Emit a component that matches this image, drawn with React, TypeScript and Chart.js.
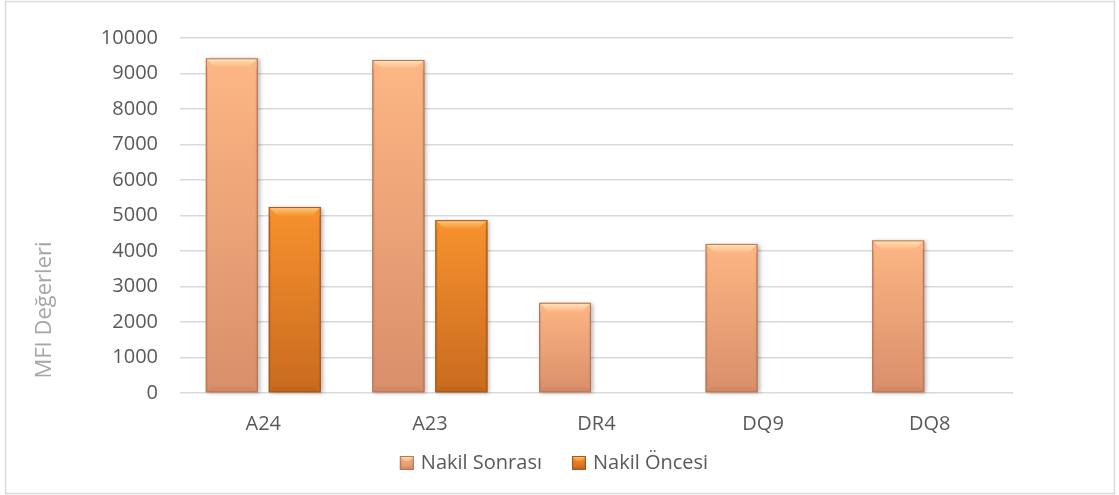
import React, { useEffect, useRef } from "react";
import { Chart, registerables } from "chart.js";

Chart.register(...registerables);

const categories = ["A24", "A23", "DR4", "DQ9", "DQ8"];
const nakilSonrasi = [9430, 9380, 2540, 4200, 4300];
const nakilOncesi = [5240, 4870, 0, 0, 0];
const yTicks = [0, 1000, 2000, 3000, 4000, 5000, 6000, 7000, 8000, 9000, 10000];
const yTitle = "MFI Değerleri";

const FONT = "'Open Sans', 'Noto Sans', sans-serif";

type Pal = { top: string; bottom: string; bevel: string; edge: string; dark: string };
const palettes: Pal[] = [
  { top: "#FDB684", bottom: "#D98F6A", bevel: "#FFE6B8", edge: "#B7775A", dark: "#C27C5C" },
  { top: "#F8922E", bottom: "#C96B1F", bevel: "#FDCB7E", edge: "#A45A1C", dark: "#AE5B1A" },
];

function drawBevelRect(ctx: CanvasRenderingContext2D, l: number, t: number, width: number, h: number, p: Pal, bvMax: number, shadow: boolean) {
  const r = l + width;
  const b = t + h;
  const bv = Math.min(bvMax, h / 2, width / 2);
  ctx.save();
  if (shadow) {
    ctx.shadowColor = "rgba(0,0,0,0.28)";
    ctx.shadowBlur = 4;
    ctx.shadowOffsetX = 2;
    ctx.shadowOffsetY = 1;
  }
  const g = ctx.createLinearGradient(0, t, 0, b);
  g.addColorStop(0, p.top);
  g.addColorStop(1, p.bottom);
  ctx.fillStyle = g;
  ctx.fillRect(l, t, width, h);
  ctx.shadowColor = "transparent";
  const gt = ctx.createLinearGradient(0, t, 0, t + bv);
  gt.addColorStop(0, p.bevel);
  gt.addColorStop(1, p.top);
  ctx.fillStyle = gt;
  ctx.beginPath();
  ctx.moveTo(l, t);
  ctx.lineTo(r, t);
  ctx.lineTo(r - bv, t + bv);
  ctx.lineTo(l + bv, t + bv);
  ctx.closePath();
  ctx.fill();
  ctx.fillStyle = p.dark;
  ctx.globalAlpha = 0.35;
  const bb = bv * 0.6;
  ctx.beginPath();
  ctx.moveTo(l, b);
  ctx.lineTo(r, b);
  ctx.lineTo(r - bb, b - bb);
  ctx.lineTo(l + bb, b - bb);
  ctx.closePath();
  ctx.fill();
  ctx.globalAlpha = 0.3;
  ctx.fillStyle = p.edge;
  ctx.fillRect(l, t + bv, 2, h - bv);
  ctx.fillRect(r - 2, t + bv, 2, h - bv);
  ctx.globalAlpha = 1;
  ctx.strokeStyle = p.edge;
  ctx.lineWidth = 1;
  ctx.strokeRect(l + 0.5, t + 0.5, width - 1, h - 1);
  ctx.restore();
}

const bevelPlugin = {
  id: "bevel",
  afterDatasetsDraw(chart: any) {
    const ctx = chart.ctx;
    chart.data.datasets.forEach((ds: any, di: number) => {
      const meta = chart.getDatasetMeta(di);
      const p = palettes[di];
      meta.data.forEach((bar: any) => {
        const { x, y, base, width } = bar.getProps(["x", "y", "base", "width"], true);
        const h = base - y;
        if (h < 1) return;
        drawBevelRect(ctx, x - width / 2, y, width, h, p, 9, true);
      });
    });
  },
};

const decorPlugin = {
  id: "decor",
  afterDraw(chart: any) {
    const ctx = chart.ctx;
    ctx.save();
    ctx.strokeStyle = "#d9d9d9";
    ctx.lineWidth = 1.5;
    ctx.strokeRect(5.5, 1.5, chart.width - 10, chart.height - 3);
    ctx.save();
    ctx.translate(45, 310);
    ctx.rotate(-Math.PI / 2);
    ctx.fillStyle = "#a6a6a6";
    ctx.font = `22px ${FONT}`;
    ctx.textAlign = "center";
    ctx.textBaseline = "middle";
    ctx.fillText(yTitle, 0, 0);
    ctx.restore();
    ctx.font = `20px ${FONT}`;
    ctx.textBaseline = "middle";
    ctx.textAlign = "left";
    const box = 14;
    const gapIcon = 7;
    const gapItem = 30;
    const labels = chart.data.datasets.map((d: any) => d.label as string);
    const widths = labels.map((t: string) => ctx.measureText(t).width);
    let total = 0;
    widths.forEach((w: number, i: number) => {
      total += box + gapIcon + w + (i < widths.length - 1 ? gapItem : 0);
    });
    let x = 554 - total / 2;
    const cy = 463;
    labels.forEach((t: string, i: number) => {
      drawBevelRect(ctx, x, cy - box / 2, box, box, palettes[i], 5, false);
      x += box + gapIcon;
      ctx.fillStyle = "#595959";
      ctx.fillText(t, x, cy);
      x += widths[i] + gapItem;
    });
    ctx.restore();
  },
};

export default function App() {
  const ref = useRef<HTMLCanvasElement>(null);
  useEffect(() => {
    document.body.style.margin = "0";
    const chart = new Chart(ref.current as HTMLCanvasElement, {
      type: "bar",
      data: {
        labels: categories,
        datasets: [
          {
            label: "Nakil Sonrası",
            data: nakilSonrasi,
            backgroundColor: "#F0A47A",
            borderWidth: 0,
            categoryPercentage: 0.756,
            barPercentage: 0.825,
          },
          {
            label: "Nakil Öncesi",
            data: nakilOncesi,
            backgroundColor: "#E07C22",
            borderWidth: 0,
            categoryPercentage: 0.756,
            barPercentage: 0.825,
          },
        ],
      },
      options: {
        animation: false,
        responsive: false,
        maintainAspectRatio: false,
        layout: { padding: { left: 26, right: 106, top: 38, bottom: 52 } },
        plugins: {
          legend: { display: false },
          tooltip: { enabled: false },
        },
        scales: {
          x: {
            grid: { display: false, drawTicks: false },
            border: { display: false },
            ticks: { color: "#595959", font: { family: FONT, size: 20 }, padding: 19 },
            afterFit(scale: any) {
              scale.height = 50;
            },
          },
          y: {
            min: 0,
            max: 10000,
            afterBuildTicks(scale: any) {
              scale.ticks = yTicks.map((v) => ({ value: v }));
            },
            grid: { color: "#d9d9d9", lineWidth: 1.5, drawTicks: false },
            border: { display: false },
            ticks: {
              color: "#595959",
              font: { family: FONT, size: 20 },
              padding: 22,
              callback: (v: any) => String(v),
            },
            afterFit(scale: any) {
              scale.width = 154;
            },
          },
        },
      },
      plugins: [bevelPlugin, decorPlugin],
    } as any);
    return () => chart.destroy();
  }, []);
  return (
    <div style={{ position: "absolute", left: 0, top: 0, width: 1119, height: 495 }}>
      <canvas ref={ref} width={1119} height={495} style={{ display: "block" }} />
    </div>
  );
}
